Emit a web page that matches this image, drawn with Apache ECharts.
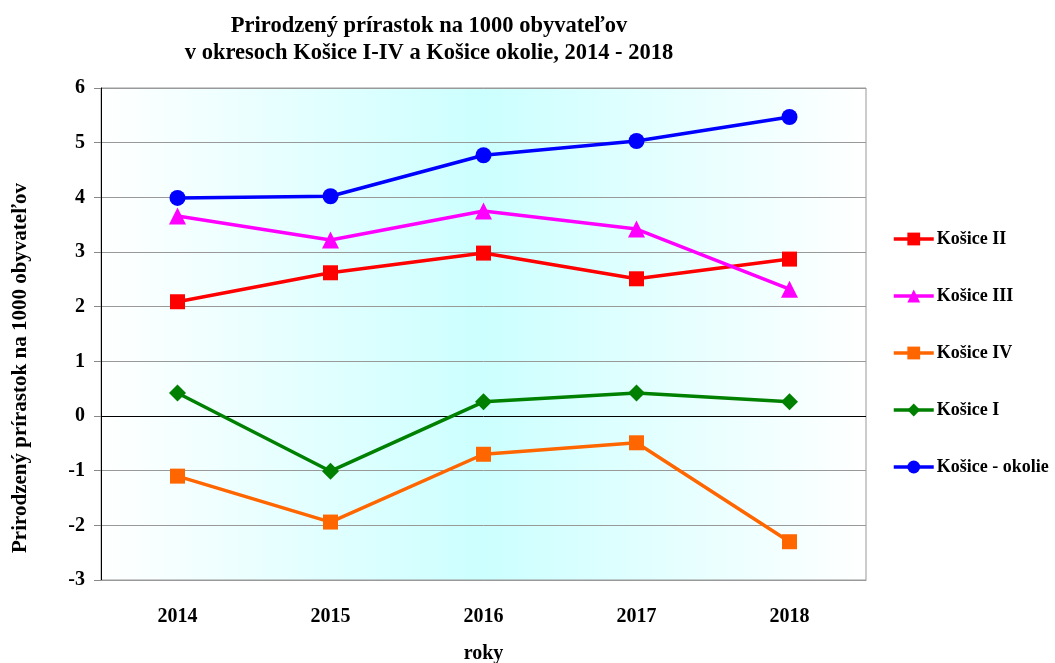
<!DOCTYPE html>
<html><head><meta charset="utf-8">
<script src="https://cdn.jsdelivr.net/npm/echarts@6/dist/echarts.min.js"></script>
<style>html,body{margin:0;padding:0;background:#fff}#c{width:1055px;height:663px}</style>
</head><body><div id="c"></div>
<script>
const years = ['2014','2015','2016','2017','2018'];
const kosiceII = [2.09, 2.62, 2.98, 2.51, 2.87];
const kosiceIII = [3.66, 3.22, 3.75, 3.42, 2.32];
const kosiceIV = [-1.10, -1.94, -0.70, -0.49, -2.30];
const kosiceI = [0.42, -1.01, 0.26, 0.42, 0.26];
const kosiceOkolie = [3.99, 4.02, 4.77, 5.03, 5.47];
const font = 'Liberation Serif';

const chart = echarts.init(document.getElementById('c'));
function s(name, data, color, symbol, size) {
  return { name, type: 'line', data, symbol, symbolSize: size,
    lineStyle: { color, width: 3.5 }, itemStyle: { color }, color, animation: false };
}
chart.setOption({
  animation: false,
  title: {
    text: 'Prirodzený prírastok na 1000 obyvateľov\nv okresoch Košice I-IV a Košice okolie, 2014 - 2018',
    left: 424, top: 8, textAlign: 'center',
    textStyle: { fontFamily: font, fontWeight: 'bold', fontSize: 22.5, lineHeight: 27, color: '#000' }
  },
  grid: {
    left: 101, right: 189, top: 88, bottom: 83, show: true, outerBoundsMode: 'none',
    borderColor: '#999', borderWidth: 1,
    backgroundColor: { type: 'linear', x: 0, y: 0, x2: 1, y2: 0,
      colorStops: [{ offset: 0, color: '#ffffff' }, { offset: 0.5, color: '#ccffff' }, { offset: 1, color: '#ffffff' }] }
  },
  legend: {
    orient: 'vertical', left: 887, top: 224, padding: 5, itemGap: 37, itemWidth: 40, itemHeight: 16,
    lineStyle: { width: 3.5 },
    textStyle: { fontFamily: font, fontWeight: 'bold', fontSize: 18, lineHeight: 20, color: '#000', padding: [0, 0, 0, -2] },
    data: ['Košice II', 'Košice III', 'Košice IV', 'Košice I', 'Košice - okolie']
  },
  xAxis: {
    type: 'category', data: years, boundaryGap: true,
    name: 'roky', nameLocation: 'middle', nameGap: 64,
    nameTextStyle: { fontFamily: font, fontWeight: 'bold', fontSize: 20, color: '#000' },
    axisLine: { onZero: false, lineStyle: { color: '#999' } },
    axisTick: { show: false },
    axisLabel: { fontFamily: font, fontWeight: 'bold', fontSize: 20, color: '#000', margin: 27 }
  },
  yAxis: {
    type: 'value', min: -3, max: 6, interval: 1,
    axisLine: { show: true, lineStyle: { color: '#000' } },
    axisTick: { show: true, length: 7, lineStyle: { color: '#888' } },
    axisLabel: { fontFamily: font, fontWeight: 'bold', fontSize: 20, color: '#000', margin: 16 },
    splitLine: { show: true, lineStyle: { color: ['#999', '#999', '#999', '#000', '#999', '#999', '#999', '#999', '#999', '#999'], width: 1 } }
  },
  graphic: [{
    type: 'text', x: 21, y: 368, rotation: Math.PI / 2,
    style: { text: 'Prirodzený prírastok na 1000 obyvateľov', fontFamily: font, fontWeight: 'bold', fontSize: 21,
      fill: '#000', align: 'center', verticalAlign: 'middle' }
  }],
  series: [
    s('Košice II', kosiceII, '#ff0000', 'rect', 15),
    s('Košice III', kosiceIII, '#ff00ff', 'triangle', 17),
    s('Košice IV', kosiceIV, '#ff6600', 'rect', 15),
    s('Košice I', kosiceI, '#008000', 'diamond', 17),
    s('Košice - okolie', kosiceOkolie, '#0000ff', 'circle', 16)
  ]
});
</script></body></html>
